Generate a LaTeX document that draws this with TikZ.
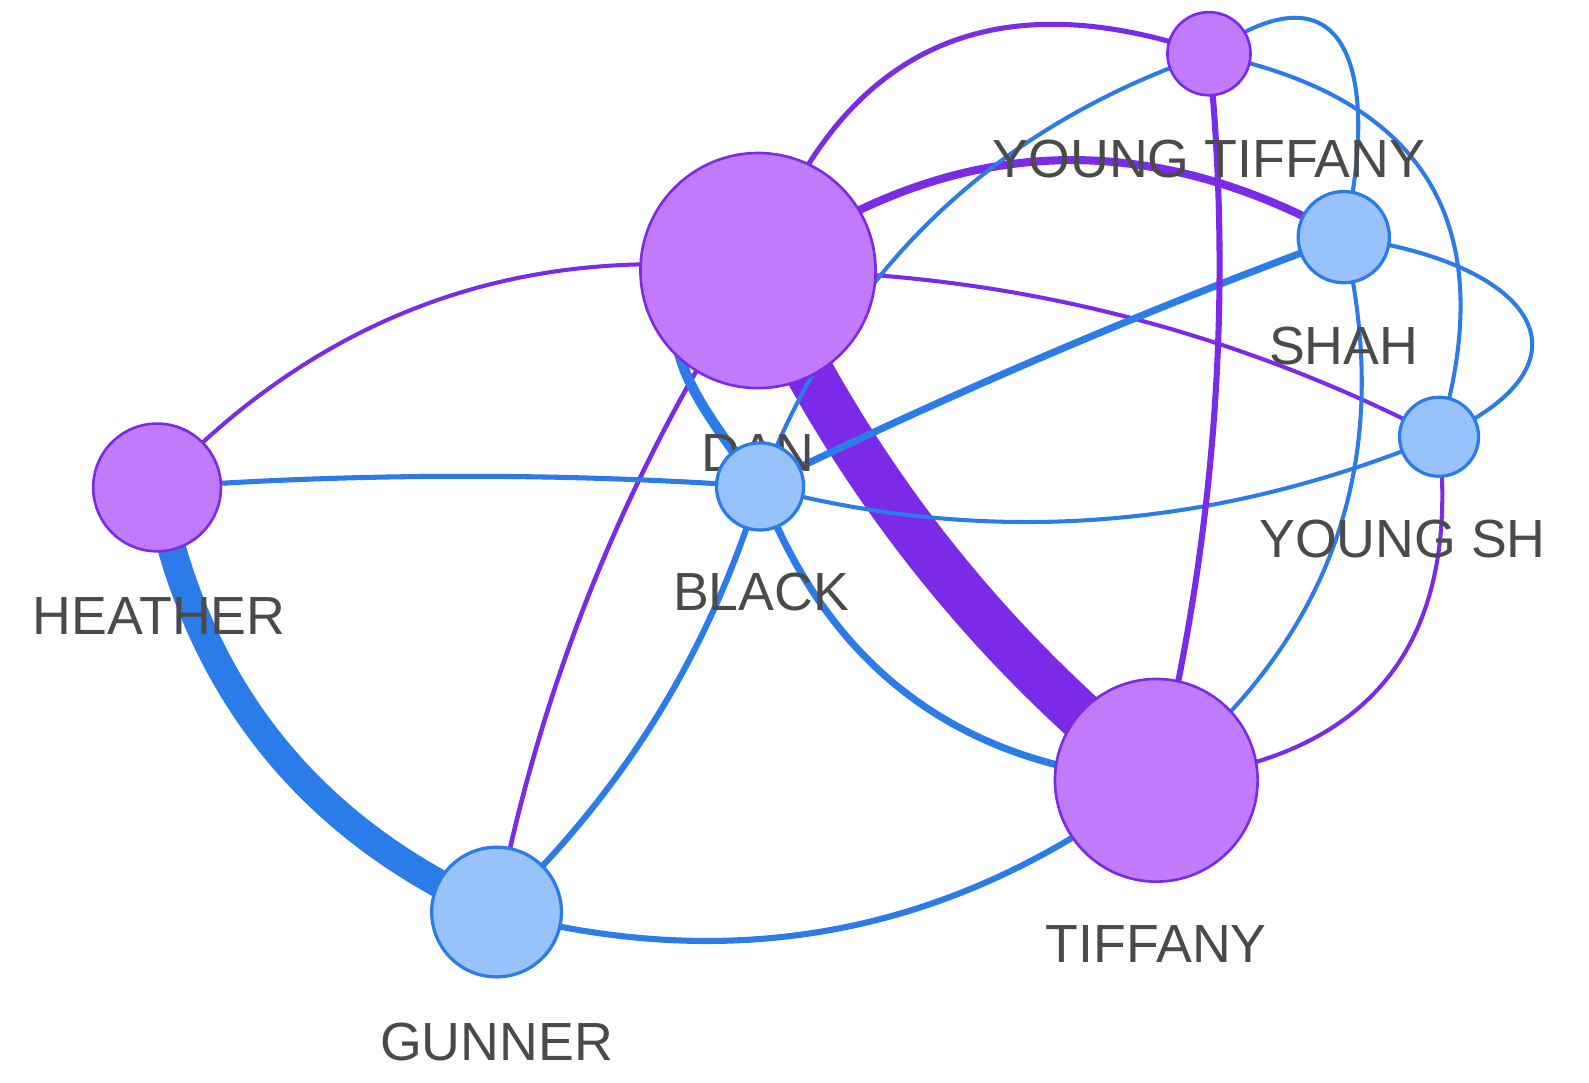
\documentclass[tikz,border=0pt]{standalone}
\usepackage{fontspec}
\setmainfont{Liberation Sans}
\usetikzlibrary{backgrounds,calc}
\definecolor{pfill}{HTML}{C07BFA}
\definecolor{pline}{HTML}{7B2BE8}
\definecolor{bfill}{HTML}{97C2FC}
\definecolor{bline}{HTML}{2B7CE9}
\definecolor{lbl}{HTML}{4A4A4A}
\tikzset{
  pnode/.style={circle, fill=pfill, draw=pline, line width=1.3pt, inner sep=0pt},
  bnode/.style={circle, fill=bfill, draw=bline, line width=1.6pt, inner sep=0pt},
  lbltext/.style={text=lbl, font=\fontsize{26.5}{30}\selectfont, inner sep=0pt},
  pedge/.style={draw=pline},
  bedge/.style={draw=bline},
}
\newcommand\qedge[4]{\draw[#1] (#2.center) .. controls ($(#2.center)!0.6667!(#4)$) and ($(#3.center)!0.6667!(#4)$) .. (#3.center);}
\begin{document}
\begin{tikzpicture}[x=0.5pt,y=-0.5pt]
\useasboundingbox (0,0) rectangle (1568,1068);
% nodes and labels
\node[pnode, minimum size=63pt] (hea) at (155,481) {};
\node[lbltext] (healbl) at (157,608) {HEATHER};
\node[bnode, minimum size=64pt] (gun) at (490,900) {};
\node[lbltext] (gunlbl) at (490,1028) {GUNNER};
\node[pnode, minimum size=100pt] (tif) at (1141,770) {};
\node[lbltext] (tiflbl) at (1141,932) {TIFFANY};
\node[pnode, minimum size=116pt] (dan) at (748,267) {};
\node[lbltext] (danlbl) at (748,447) {DAN};
\node[pnode, minimum size=41pt] (yt) at (1193,53) {};
\node[lbltext] (ytlbl) at (1193,157) {YOUNG TIFFANY};
\node[bnode, minimum size=45pt] (shah) at (1326,234) {};
\node[lbltext] (shahlbl) at (1326,341) {SHAH};
\node[bnode, minimum size=39pt] (ysh) at (1420,431) {};
\node[lbltext] (yshlbl) at (1384,532) {YOUNG SH};
\node[bnode, minimum size=43pt] (black) at (750,480) {};
\node[lbltext] (blacklbl) at (751,584) {BLACK};
% edges
\begin{scope}[on background layer]
\fill[white] (0,0) rectangle (1568,1068);
\qedge{pedge,line width=24pt}{dan}{tif}{884.7,565.3}
\qedge{bedge,line width=14pt}{hea}{gun}{213,778}
\qedge{pedge,line width=2.5pt}{dan}{yt}{865,-60}
\qedge{pedge,line width=4pt}{dan}{shah}{1026.6,67}
\qedge{pedge,line width=2pt}{dan}{ysh}{1104,267.4}
\qedge{pedge,line width=2pt}{dan}{hea}{397.1,223.4}
\qedge{pedge,line width=2.25pt}{dan}{gun}{556,557.9}
\draw[bedge,line width=5pt] (dan.center) .. controls (600,290) and (690,400) .. (black.center);
\qedge{bedge,line width=2.5pt}{hea}{black}{452.5,459.5}
\qedge{bedge,line width=3pt}{black}{gun}{676,724.8}
\qedge{bedge,line width=3.5pt}{black}{tif}{852.5,750.3}
\qedge{bedge,line width=3.5pt}{black}{shah}{1031.7,342.3}
\qedge{bedge,line width=2pt}{black}{yt}{871.5,162.9}
\qedge{bedge,line width=2pt}{black}{ysh}{1085,569.5}
\qedge{bedge,line width=3pt}{gun}{tif}{847.7,995.8}
\qedge{pedge,line width=3pt}{yt}{tif}{1229,411.5}
\qedge{bedge,line width=2pt}{shah}{tif}{1403.7,560.7}
\draw[bedge,line width=2pt] (shah.center) .. controls (1520,260) and (1580,360) .. (ysh.center);
\qedge{pedge,line width=2pt}{ysh}{tif}{1453.5,742.9}
\draw[bedge,line width=2pt] (yt.center) .. controls (1340,-50) and (1360,90) .. (shah.center);
\qedge{bedge,line width=2pt}{yt}{ysh}{1513.9,117.4}
\end{scope}
\end{tikzpicture}
\end{document}
